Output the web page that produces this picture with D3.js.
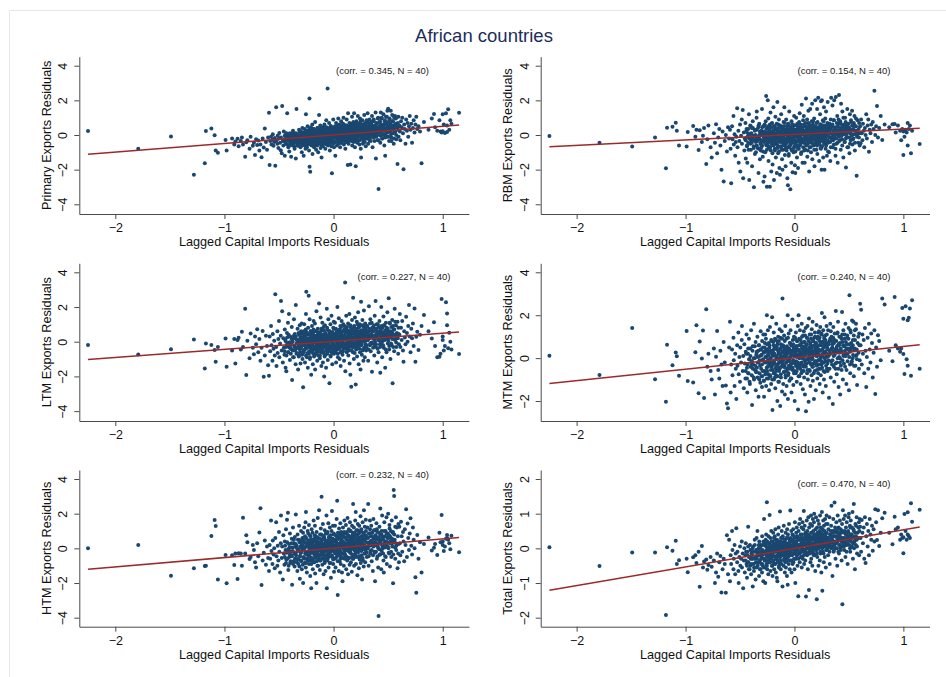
<!DOCTYPE html>
<html>
<head>
<meta charset="utf-8">
<script src="https://cdn.jsdelivr.net/npm/d3@7"></script>
<style>
  html, body { margin: 0; padding: 0; background: #fff; }
  svg { display: block; }
</style>
</head>
<body>
<svg id="chart" width="946" height="677"></svg>
<script>
// Lagged capital imports residuals (shared by every panel), one value per country-year
const capitalImports = [
  -2.25,-1.79,-1.49,-1.28,-1.18,-1.17,-1.12,-1.09,-1.08,-1.06,
  -.99,-.98,-.93,-.91,-.9,-.88,-.87,-.85,-.84,-.83,
  -.81,-.8,-.79,-.77,-.76,-.74,-.73,-.72,-.71,-.7,
  -.69,-.68,-.67,-.66,-.65,-.64,-.63,-.62,-.61,-.6,
  -.592,-.586,-.581,-.573,-.569,-.56,-.557,-.55,-.544,-.539,
  -.534,-.526,-.523,-.515,-.512,-.506,-.5,-.497,-.49,-.484,
  -.482,-.475,-.471,-.465,-.46,-.456,-.45,-.447,-.44,-.436,
  -.433,-.427,-.425,-.418,-.415,-.409,-.406,-.4,-.398,-.391,
  -.389,-.383,-.38,-.374,-.372,-.365,-.363,-.357,-.355,-.348,
  -.346,-.34,-.338,-.332,-.33,-.325,-.323,-.317,-.316,-.31,
  -.309,-.304,-.303,-.298,-.297,-.292,-.291,-.286,-.285,-.28,
  -.279,-.274,-.273,-.269,-.268,-.264,-.262,-.26,-.257,-.255,
  -.253,-.25,-.249,-.245,-.244,-.24,-.238,-.236,-.233,-.232,
  -.228,-.226,-.225,-.221,-.22,-.217,-.214,-.213,-.209,-.207,
  -.205,-.202,-.201,-.198,-.195,-.193,-.19,-.188,-.186,-.183,
  -.181,-.179,-.176,-.175,-.171,-.169,-.167,-.164,-.162,-.16,
  -.157,-.155,-.152,-.15,-.148,-.145,-.143,-.141,-.138,-.136,
  -.133,-.131,-.129,-.126,-.124,-.122,-.119,-.117,-.114,-.112,
  -.11,-.107,-.105,-.103,-.1,-.098,-.095,-.093,-.091,-.088,
  -.086,-.084,-.081,-.079,-.076,-.074,-.072,-.069,-.067,-.065,
  -.062,-.06,-.057,-.055,-.053,-.05,-.048,-.046,-.043,-.041,
  -.038,-.036,-.034,-.031,-.029,-.027,-.024,-.022,-.019,-.017,
  -.015,-.012,-.01,-.008,-.005,-.003,0,.002,.004,.006,
  .008,.011,.013,.016,.018,.021,.023,.026,.028,.031,
  .033,.035,.038,.04,.043,.045,.048,.05,.052,.055,
  .057,.06,.062,.065,.067,.069,.072,.074,.077,.079,
  .082,.084,.086,.089,.091,.094,.096,.099,.101,.103,
  .106,.108,.111,.113,.116,.118,.12,.123,.125,.128,
  .13,.133,.135,.137,.14,.142,.145,.147,.15,.152,
  .154,.157,.159,.162,.164,.167,.169,.171,.174,.176,
  .179,.181,.184,.186,.188,.191,.193,.196,.198,.201,
  .203,.205,.208,.21,.213,.215,.218,.22,.222,.225,
  .227,.23,.232,.235,.237,.239,.242,.244,.247,.249,
  .252,.254,.256,.259,.261,.264,.266,.269,.271,.273,
  .276,.278,.281,.283,.286,.288,.29,.293,.295,.298,
  .301,.305,.309,.312,.317,.321,.324,.329,.333,.337,
  .34,.345,.349,.352,.357,.36,.365,.368,.373,.377,
  .38,.385,.388,.393,.397,.4,.405,.409,.412,.417,
  .42,.425,.428,.433,.437,.44,.445,.449,.452,.457,
  .46,.465,.468,.473,.477,.48,.485,.488,.493,.497,
  .5,.505,.509,.512,.517,.521,.524,.529,.533,.537,
  .541,.545,.551,.555,.56,.565,.571,.575,.58,.586,
  .589,.592,.594,.596,.599,
  .603,.607,.612,.618,.624,.629,.636,.641,.647,.653,
  .659,.665,.672,.678,.684,.691,.698,.705,.712,.719,
  .727,.734,.742,.75,.758,.767,.778,.792,.806,.828,
  .87,.9,.92,.93,.95,.97,.98,.99,1,1,
  1.01,1.02,1.03,1.04,1.04,1.05,1.06,1.07,1.08,1.15,
  -.448,-.444,-.436,-.432,-.425,-.422,-.415,-.412,-.404,-.401,
  -.396,-.392,-.385,-.382,-.374,-.371,-.364,-.36,-.354,-.351,
  -.346,-.344,-.338,-.336,-.329,-.327,-.321,-.319,-.313,-.311,
  -.306,-.304,-.298,-.296,-.29,-.288,-.282,-.28,-.274,-.272,
  -.267,-.265,-.26,-.258,-.253,-.251,-.246,-.244,-.239,-.237,
  -.232,-.23,-.225,-.223,-.218,-.216,-.211,-.209,-.204,-.202,
  -.197,-.196,-.191,-.19,-.185,-.184,-.179,-.178,-.173,-.172,
  -.167,-.166,-.161,-.16,-.155,-.154,-.149,-.148,-.143,-.142,
  -.137,-.136,-.131,-.13,-.125,-.124,-.119,-.118,-.113,-.112,
  -.107,-.106,-.101,-.1,-.095,-.094,-.089,-.088,-.083,-.082,
  -.077,-.076,-.071,-.07,-.065,-.064,-.059,-.058,-.053,-.052,
  -.047,-.046,-.041,-.04,-.035,-.034,-.029,-.028,-.023,-.022,
  -.017,-.016,-.011,-.01,-.005,-.004,.002,.003,.008,.009,
  .014,.015,.02,.021,.026,.027,.032,.033,.038,.039,
  .044,.045,.05,.051,.056,.057,.062,.063,.068,.069,
  .074,.075,.08,.081,.086,.087,.092,.093,.098,.099,
  .104,.105,.11,.111,.116,.117,.122,.123,.128,.129,
  .134,.135,.14,.141,.146,.147,.152,.153,.158,.159,
  .164,.165,.17,.171,.176,.177,.182,.183,.188,.189,
  .194,.195,.2,.201,.206,.207,.212,.213,.218,.219,
  .224,.225,.23,.231,.236,.237,.242,.243,.248,.249,
  .254,.255,.26,.261,.266,.267,.272,.273,.278,.279,
  .284,.285,.29,.291,.296,.297,.302,.303,.308,.309,
  .314,.316,.321,.322,.328,.329,.334,.336,.341,.342,
  .348,.349,.355,.356,.362,.363,.368,.37,.375,.377,
  .382,.384,.389,.391,.396,.398,.403,.405,.41,.412,
  .417,.419,.425,.426,.432,.434,.439,.441,.447,.449,
  .454,.456,.462,.464,.47,.472,.478,.48,.486,.488,
  .494,.496,.502,.504,.51,.513,.519,.521,.527,.53,
  .536,.538,.545,.547,.554,.556,.563,.565,.572,.574
];

// Export residuals, same observation order as capitalImports
const primaryExports = [
  .23,-.79,-.08,-2.29,-1.63,.23,.38,-.02,-.9,-1.02,
  -.29,-.9,-.2,-.55,-.38,-.22,-.65,-.35,-.15,-.55,
  -1.25,-.42,-.3,-.8,-.1,-.62,-.45,-1.15,-.25,-.58,
  -.32,-.9,-.55,-1.29,-.2,-.72,.38,-.4,-.85,-.15,
  1.29,-1.73,-.35,-.1,-.55,-.28,.05,-.62,-.4,-.18,
  -1.77,1.6,-.3,-.5,-.05,-.75,-.2,.12,-.45,-.88,
  -.15,-1.05,1.67,-.35,-.6,.2,-.25,-1.2,-.4,.02,
  -.52,-.1,1.25,-.3,-.7,-.18,-.95,.1,-.42,-.25,
  -1.25,-.35,-.05,-.6,.25,-.2,-.48,-.8,.05,-.3,
  -1.35,1.5,-.15,-.4,-.62,-.02,-.28,-.5,.3,-.12,
  -.35,-.7,-.1,.15,-.45,-.22,-1,.4,-.55,-.08,
  -.2,-1.2,.1,-.45,-.3,.35,-.6,-.05,-.8,.2,
  1.2,-.15,-.4,.05,-.7,-.25,.5,-.55,-.1,.15,
  -.35,.3,-.9,2.1,-1.83,-.2,-2.12,0,-.5,.45,
  -.05,-.6,.25,-.3,.6,-1.1,-.15,.1,-.45,-.25,
  .35,-.7,-.1,.05,-.35,.75,-.5,-.2,.15,-.85,
  -.3,.2,-.05,-.6,.4,-.25,0,-1,.3,-.4,
  1.15,-.15,-.5,.1,-.3,.55,-.75,.05,-.2,.3,
  -1.3,-.05,.25,-.4,0,-.65,.45,-.25,.15,-.1,
  -.45,.6,-.2,.1,-.8,.3,-.05,-.3,.85,-.55,
  .15,-.25,.4,2.69,-.1,-.6,.2,-.35,.05,.7,
  -.15,.35,-.9,.1,-.4,.5,-.2,0,-.65,.25,
  -2.21,.4,-.3,.15,-.5,.9,-.1,.3,-.7,.05,
  .1,-.4,.5,-1.2,.25,-.15,.7,-.05,.35,-.6,
  0,.45,-.3,.2,.95,-.5,.15,-.1,.6,-.25,
  .3,-.7,.05,.5,-.2,.8,-.45,.15,-.05,.4,
  -.35,.2,.65,-.1,1,-.55,.3,.05,-.25,.45,
  .1,-.8,.55,-.15,.25,-.4,.9,0,.35,-.3,
  -1.73,1.25,.2,-.5,.4,-.05,.7,-.25,.15,.5,
  -1.7,.3,-.1,.6,-.35,.1,1.05,-.6,.45,-.2,
  .25,.75,-.4,.05,1.25,-.15,.4,-.7,.6,.1,
  -1.81,.35,-.25,.8,0,.5,-.45,.2,1.1,-.1,
  .45,-.3,.15,.65,-.55,.3,.95,-.05,.25,-.8,
  -1.3,.55,.05,.35,-.2,.85,.2,-.5,.6,.1,
  .4,-.15,1.15,.3,-.4,.7,.05,.5,-.65,.25,
  .3,-.2,.75,1.25,-.5,.45,.1,.9,-.15,.55,
  -.35,.6,.2,1.1,-.7,.35,0,.8,.5,-.1,
  .25,1.3,-1.35,.65,.1,.4,-.3,1,-3.12,.5,
  .15,.7,-.45,1.3,.35,.95,-.2,.55,.05,1.2,
  .4,-.6,.8,-1.2,.25,1.05,.6,-.1,1.4,.3,
  1.52,.45,-.35,.9,.2,.65,1.4,-.15,.5,1.15,
  .35,.8,-.5,1,.15,.6,.95,-.25,.45,-1.67,
  .7,.3,1.05,-.1,.5,
  .55,.2,-.3,.8,.45,1,.1,-1.98,.6,.35,
  -.5,.9,.25,.7,-.1,.5,1.1,.3,.65,-.45,
  .4,.85,.15,.6,1.05,.35,.5,.2,-1.63,.75,
  .3,.95,1.21,.45,.25,.85,.2,.15,.22,1.2,
  .6,.12,1.25,.55,.18,1.48,.3,.85,.65,1.29,
  -.05,-.4,-.25,.1,-.55,-.3,-.15,.05,-.6,-.2,
  -.35,0,-.1,-.5,-.2,.15,-.3,-.65,-.05,-.25,
  .1,-.3,-.45,-.15,.05,-.55,-.2,-.05,-.35,.2,
  -.25,-.05,.2,-.4,-.15,-.6,0,-.3,.15,-.1,
  -.4,.1,-.2,-.05,-.5,.25,-.3,-.1,.05,-.35,
  0,-.25,.2,-.45,-.1,.1,-.35,-.55,.3,-.15,
  -.3,.15,-.05,-.2,.35,-.45,.05,-.15,-.6,.2,
  .1,-.35,-.1,.25,-.25,-.5,0,.4,-.15,-.05,
  -.2,.3,-.45,.05,-.1,.2,-.3,0,.45,-.55,
  .15,-.15,.35,-.3,0,-.5,.25,-.1,.1,-.25,
  -.35,.05,.3,-.15,.45,-.05,-.4,.2,0,-.2,
  .25,-.25,.1,-.5,0,.35,-.1,-.3,.5,.05,
  -.15,.2,-.35,.4,.05,-.2,.3,-.45,.1,-.05,
  .3,-.1,.15,-.4,.45,0,-.25,.2,-.05,.55,
  -.2,.35,.05,-.35,.2,.5,-.1,.1,-.45,.25,
  .15,-.3,.45,0,-.15,.3,.6,-.2,.1,-.05,
  .35,-.05,.2,-.4,.1,.55,-.2,0,.4,-.1,
  -.15,.25,.5,.05,-.3,.35,.1,-.1,.65,.2,
  .4,0,-.2,.3,.15,-.35,.6,.05,.25,-.1,
  .2,-.25,.45,.1,.7,-.05,.3,-.4,.15,.5,
  -.1,.35,.05,.55,.2,-.3,.4,.1,.8,-.05,
  .3,.6,-.15,.15,.45,0,-.35,.25,.5,.1,
  .05,.4,.2,-.2,.65,.3,.1,.85,-.1,.45,
  .5,-.05,.25,.7,.1,-.3,.4,.2,.6,0,
  .3,.75,.05,.45,-.15,.2,.9,.35,-.35,.55,
  .1,.5,.25,-.1,.7,.35,0,.95,.2,-.3,
  .45,.15,.8,.3,-.05,.55,.2,1,-.2,.4,
  .25,.6,0,.4,.85,-.15,.35,.1,.7,1.05,
  .5,.15,.75,-.1,.35,.95,.25,.6,.05,-.35,
  .3,.8,.1,.55,-.2,.4,1.1,.2,.65,0
];

const rbmExports = [
  -.06,-.44,-.67,-.15,-1.92,.42,.48,.71,.25,-.6,
  -.67,.18,.52,-.1,.3,-.87,.28,-.4,-.05,.4,
  -1.67,-.25,.55,-.7,-1.3,.1,-.45,.62,-1.05,-.15,
  .35,-.6,-2,.2,-2.69,-.35,0,-.95,.45,-.2,
  .3,-.8,-2.79,.5,-.25,1.1,-.55,.05,-1.2,-.4,
  -.1,1.55,-.7,.25,-1.6,-.35,.6,-2.1,-.05,.9,
  -.5,1.45,-2.5,.15,-.9,-.2,.7,-1.35,.35,-.6,
  -1.6,.1,-.45,1.2,-2.6,-.15,.55,-.85,-.3,.4,
  -1.8,.8,-.05,-.65,-3.02,.3,-1.1,0,-.4,1,
  1.35,-.25,-.75,.45,-2.2,-.1,.65,-1.4,.2,-.5,
  -.9,.25,-.35,1.5,-.6,.1,-1.25,.5,-2.7,-.15,
  .2,-2.4,.55,-.3,-1,.8,-.15,2.25,-.6,.05,
  -2.98,.4,-.5,2,-.2,.95,-1.5,.1,-.75,.3,
  -.05,-2.98,.6,-.4,1.3,-.9,.15,-2.1,.45,-.25,
  .7,-.55,-1.7,.2,-.1,1.6,-.35,-2.6,0,.5,
  -.8,.35,-.2,1.05,-1.3,.1,-.45,.65,-2.2,-.05,
  1.9,-.6,.25,-1.05,.4,-.3,.9,-.15,-1.9,.15,
  -2.3,.55,-.25,.1,-.7,1.2,-.4,.3,-1.4,0,
  -2,.45,-.1,-.85,.75,-.35,.2,1.6,-.6,-1.15,
  .3,-.5,-1.8,.05,.9,-.25,-.9,.5,-.05,-2.5,
  -.4,-2.9,.65,-.15,-1.2,.25,1.35,-.7,.1,-.3,
  -3.13,.4,-.55,.15,-1.6,.8,-.2,-.9,.35,-2.15,
  .6,-.35,.05,-1,.3,1.1,-.65,-.1,-1.75,.2,
  -2.2,.3,-.4,1,-.1,.55,-1.3,.2,-.65,0,
  -1.9,.45,.1,-.8,.75,-.3,1.25,-.05,-.5,.35,
  .6,-1.1,.15,-.35,1.75,-.2,.4,-1.6,.05,.85,
  -.45,.25,1.1,-.9,0,-1.6,.5,-.25,.7,-.1,
  2.1,-.6,.3,-.15,.9,-1.25,.05,.45,-.4,1.4,
  -.2,.65,-2.1,.1,-.7,.35,1.5,-.3,.2,-1,
  .5,-.45,.05,1.8,-1.4,.25,-.15,.8,-.6,.15,
  -.25,.95,-1.8,.4,.1,2,-.5,.3,-.1,-.85,
  .7,-.3,1.5,-1.1,.15,-.55,2.15,.45,-.2,.05,
  -1.5,.35,-.4,1.2,0,-.75,.6,1.95,-.15,-2,
  2,-.65,.25,-.1,.85,-1.3,.4,-.35,1.6,.1,
  -2,.55,-.2,.95,-.8,.2,1.35,-.45,.05,-1.2,
  .2,1.9,-.45,.6,-1,.35,-.15,-1.5,.9,2.15,
  -.3,.5,1.7,-.7,.1,.85,2,-.2,.4,-1.2,
  2.2,-.5,.25,1.1,-1.6,0,.65,2.31,-.35,.3,
  .8,-.85,1.8,.15,-.25,1.35,.45,-1.3,.05,.6,
  -.4,1,.2,-1.87,.55,-.1,1.5,.35,-.7,.25,
  .4,-1.05,1.2,.1,-.3,.75,.05,1.4,-.55,.3,
  -.2,.6,1.1,-.9,.25,.5,-2.35,0,.85,-.45,
  .35,-.15,.7,.1,-.6,
  .5,-.48,.9,.1,-.3,.65,.25,-.7,.4,0,
  1.2,-.2,.55,.9,-.96,.3,.1,.6,-.4,.75,
  .35,2.56,0,.5,1.67,-.15,.4,1.1,-.29,.6,
  .45,.62,.63,.15,.55,.25,-.3,.35,-1.15,.2,
  -.1,.3,.15,.7,-.6,.35,.55,-1.06,.25,-.52,
  -.3,.2,-.65,-.1,.35,-.85,-.2,.05,-.5,.5,
  .1,-.45,-.15,.4,-.75,-.3,.25,-.05,-1,-.2,
  -.6,.3,-.1,-.35,.55,-.8,0,-.25,.15,-.5,
  .2,-.7,-.3,.45,-.05,-.95,.1,-.4,.6,-.15,
  -.25,.05,-.55,.35,-.85,.15,-.1,-.4,.5,-.65,
  .4,-.35,-.05,-.7,.2,-.2,.65,-.5,0,-1.05,
  -.15,.25,-.6,.1,-.3,.5,-.9,-.05,.3,-.45,
  0,-.5,.35,-.2,-.75,.15,-.35,.6,-.1,-.95,
  -.4,.2,-.1,.45,-.65,-.25,.05,-.85,.3,-.15,
  .25,-.3,.5,-.55,0,-.2,.7,-.45,.1,-.8,
  -.5,.1,-.25,.35,-.7,.15,-.05,.55,-.35,-1.1,
  .3,-.15,-.6,.05,.45,-.4,.2,-.85,0,.6,
  -.2,.4,-.45,.15,-.75,0,.55,-.3,.25,-.95,
  .05,-.55,.3,-.1,.65,-.35,-.8,.2,-.2,.45,
  -.35,.25,0,-.6,.5,-.15,.35,-1,.1,-.4,
  .4,-.25,.15,-.7,.05,.6,-.45,.25,-.1,-.85,
  -.05,.5,-.3,.2,-.55,.35,0,-.9,.7,-.2,
  .3,-.45,.1,.55,-.15,-.7,.4,0,-.35,.8,
  -.25,.15,.6,-.5,.3,-.1,-.85,.45,.05,-.3,
  .5,-.2,0,.35,-.6,.2,.75,-.4,.1,-.05,
  -.1,.4,-.55,.15,.6,-.3,.25,-.8,.45,0,
  .3,-.35,.55,.05,-.15,.8,-.5,.2,-.05,.4,
  -.2,.5,.1,-.6,.35,0,.7,-.3,.2,-.95,
  .45,-.1,.25,.65,-.4,.1,-.7,.35,.55,-.15,
  .05,.6,-.3,.2,-.55,.85,.3,-.05,.45,-.8,
  .35,-.2,.7,.1,-.45,.5,0,.9,-.1,.25,
  -.3,.4,.15,.65,-.05,.3,-.6,.55,.2,1,
  .5,.05,-.4,.3,.75,-.2,.45,.1,-.7,.6,
  .2,.65,-.15,.4,-.5,.1,.85,.3,-.05,.55,
  -.25,.35,.7,.05,.5,-.45,.25,.95,.15,-.1
];

const ltmExports = [
  -.19,-.73,-.44,.13,-1.54,-.1,-.19,-.48,-1.15,-.3,
  .19,-1.44,-.5,.15,-1.25,.1,.23,-.45,.58,-.3,
  1.9,-1.92,.05,-.95,.48,-.35,-.72,.3,-.15,.72,
  -.6,.15,-1.1,-.35,.62,-2.02,-.8,.35,-.25,-1.35,
  -1.96,.3,-.55,.9,-.2,-1.1,.45,-.4,.05,-.8,
  2.73,-.3,-1.4,.6,-.65,.15,1.2,-.9,-.1,.35,
  2.35,-.5,1.75,-1.2,.2,-.35,-.75,.7,-1.5,0,
  -1.7,.5,-.25,1.1,-.6,1.6,-.05,-1.05,.3,-.4,
  -.15,.85,-2.21,-.5,.2,-.9,1.3,-.3,.45,-1.3,
  2.12,-.7,.1,-.35,.75,-1.6,-.1,.4,-.8,.95,
  -.45,.25,-1.25,.6,-.2,1.05,-.65,.1,-1,.5,
  -2.63,.3,-.6,1,-.15,.5,-1.2,.1,-.4,.7,
  1.6,2.88,-.35,.2,-.9,.45,-.05,-1.5,.8,-.25,
  2.65,-.7,.15,-.3,1.3,-1,.4,-.1,.6,-.55,
  -1.9,.25,-.45,.9,-.15,.05,-1.3,.55,-.7,1.2,
  .35,-.85,0,-.3,1.05,-1.6,.2,.6,-.4,-.1,
  1.75,-.5,.3,-1.1,.1,.75,-.25,-.8,.45,0,
  2.21,-.35,.55,-.95,.15,-.2,1.4,-.6,.3,-1.4,
  .05,.65,-.45,1.1,-.15,-1.2,.4,-.05,.85,-.7,
  -2,.2,-.3,.95,-.75,.5,.05,-1.5,.35,-.2,
  1.9,-.4,.7,-.1,-1.05,.25,1.3,-.55,.1,.45,
  -2.4,.6,-.25,.15,1,-.85,.35,-.3,1.5,-.6,
  0,-1.3,.55,.2,-.45,.8,-.15,1.15,-.7,.3,
  .4,-.6,1.1,.1,-.3,.75,-1.2,.25,.5,-.05,
  -.45,2,.2,-.9,.65,0,1.35,-.35,.3,-1,
  .55,-.2,.9,-1.4,.15,.45,-.55,1.2,-.1,.35,
  -.75,.6,.05,1,-.4,.3,-1.1,.7,.2,-.25,
  3.42,-1.7,.5,-.15,1.5,.1,-.6,.85,-.3,.25,
  0,1.05,-.8,.4,-.35,.6,1.6,-1.25,.15,-.1,
  -1.9,.35,.8,-2.6,.05,-.5,1.25,.5,-.2,.7,
  2.54,-.3,.25,-1,.9,.1,-.65,1.4,.4,-.15,
  -2.46,.55,-.4,.2,1.15,-.85,.6,0,-.25,1.7,
  .3,-1.3,.85,-.1,.45,1,-.6,.15,-1.6,.5,
  2.3,-.2,.65,-.75,.1,1.25,.35,-.45,.95,-1.1,
  .2,1.8,-.35,.6,-.9,.4,1.05,-.15,.75,-.5,
  .5,-.4,.9,.1,-1.1,.35,2.05,.7,-.2,1.3,
  -.55,.25,1.1,-1.73,.6,-.1,.85,.3,-.8,1.5,
  0,2.35,-.3,.75,.45,-1.2,1,.2,-.6,.55,
  1.2,-.15,-1.79,.65,2,.3,-.9,.8,.05,1.45,
  -.35,.95,.4,-1.5,.15,1.1,-.6,.5,1.7,-.1,
  .6,2.5,-.45,.25,1.05,-1,.4,.85,-.2,1.25,
  -2.4,.35,.7,-.55,1.9,.15,.95,-.3,.5,1.15,
  .2,-.7,.8,.45,-.15,
  .4,1.6,-.3,.8,.1,1.2,-.5,-1.15,.6,.25,
  -.15,1.44,.5,0,.9,2.12,.3,-.6,.75,.2,
  1.05,-.25,1.92,-1.15,.29,.58,-.48,.4,.9,1.54,
  .6,.18,1.12,-.25,-.9,-.87,-.7,2.46,.1,.3,
  -.5,-.25,2.27,1.63,.95,-.38,.52,0,-.45,-.71,
  -.55,.1,-.3,-.8,.25,-.15,-.6,.4,-.35,-.05,
  -.2,-.7,.15,-.45,0,-.9,.35,-.25,-.5,.2,
  .3,-.4,-.1,-.65,.1,-.3,.5,-.85,-.2,.05,
  -.6,.15,-.35,.45,-.05,-.75,.25,-.2,-.5,.6,
  0,-.45,.35,-.25,-.8,.1,.55,-.35,-.1,-.65,
  -.3,.4,-.55,.05,.2,-.9,-.15,.6,-.4,.15,
  .25,-.2,-.6,.45,-.05,.7,-.45,.1,-.3,-.75,
  -.45,.05,.35,-.25,.6,-.65,.2,-.1,.45,-.35,
  .1,-.55,.3,-.15,-.8,.5,0,-.4,.75,-.2,
  -.35,.4,-.1,.25,-.6,.05,.65,-.3,.15,-.85,
  .45,-.25,.1,-.5,.3,-.05,.8,-.7,.2,-.15,
  -.1,.35,-.45,.6,0,-.3,.15,-.8,.5,.25,
  .2,-.4,.55,-.15,.3,-.65,.05,.75,-.25,.4,
  -.3,.15,.45,-.5,0,.65,-.2,.3,-.7,.1,
  .5,-.05,-.4,.25,.7,-.25,.1,-.6,.4,.85,
  .05,.45,-.3,.2,-.55,.6,.35,-.1,.9,-.2,
  .3,-.35,.15,.55,-.1,.8,-.45,.25,0,.65,
  -.15,.4,.1,-.5,.6,.2,-.25,.95,.35,-.05,
  .45,0,-.3,.7,.15,-.6,.5,.25,-.1,.85,
  .2,.6,-.2,.35,-.45,.1,.75,.4,-.05,1,
  -.25,.5,.15,.8,.3,-.4,.05,.6,.95,-.1,
  .35,-.15,.65,.1,.45,-.5,.25,.85,0,.55,
  .7,.2,-.3,.5,.05,.9,.35,-.2,.6,.15,
  .1,.55,.3,-.45,.75,.2,1.05,-.1,.4,.65,
  .45,-.05,.8,.25,-.35,.6,.15,.95,.35,-.2,
  .2,.7,-.15,.5,1,.3,-.4,.55,.1,.85,
  .6,.05,.4,-.3,.75,.25,.9,-.05,.5,.15,
  -.2,.5,.95,.3,.1,.65,-.45,.4,.8,.2,
  .35,.75,.05,.55,-.25,1.1,.3,.6,-.1,.45,
  .55,.15,.9,-.3,.4,.7,.1,1.15,.35,-.05
];

const mtmExports = [
  .11,-.79,1.4,-.98,-2.03,.62,-.33,.26,.09,-.82,
  1.27,-1.07,-1.13,.28,1.53,-1.64,.78,-.02,1.29,-1.86,
  2.28,-.4,.2,-.6,-1,.45,-1.69,.06,1.26,-.55,
  -.95,.35,-.3,-1.3,.75,-.2,-1.28,-2.11,-2.34,.5,
  1.7,-1.6,-.3,.4,-.8,.95,-.1,-1.3,.2,-.5,
  -1.9,.6,-.35,1.2,-.75,.05,-1.1,.5,-.2,.85,
  1.5,-.6,.1,-1.4,.65,-.25,-.95,.3,1.1,-.45,
  -1.6,.2,-.7,.9,-.05,-1.2,.45,-.4,1.3,-.15,
  -2.19,.55,-.3,-.9,1.6,0,-.55,.75,-1.5,.25,
  -.65,1,-.2,.35,-1.8,.6,-1,.1,-.35,1.25,
  .4,-.85,.15,-1.35,.8,-.1,-.6,1.1,.3,-1.05,
  -1.8,.5,-.2,1.1,-.75,.3,.9,-1.3,.05,-.45,
  2,-.6,.4,-.1,1.3,-.95,.15,.7,-1.5,-.3,
  .6,-.2,1.45,-.85,0,.35,-1.2,.85,-.4,.2,
  1.9,-2.42,.3,-.55,.75,-.15,1.2,-1,.45,-.7,
  -.25,.9,-1.4,.1,.55,-.8,1.6,-.05,-.5,.4,
  -2,.65,-.3,1,-1.1,.2,.8,-.6,0,1.35,
  -.45,-2.23,.95,.15,-.9,.5,-.2,1.25,-1.55,.3,
  2.78,-.1,.6,-1.2,.25,-.65,1.05,.4,-.35,-1.7,
  .1,1.5,-.8,.35,-.2,.9,-1.3,.55,0,-.5,
  2,-1.9,.25,-.7,1.15,.45,-.15,-1.05,.7,.05,
  -.4,1.3,-.95,.2,.6,-1.6,.35,-.25,1.8,-.55,
  .85,-.1,-1.25,.5,1,-.6,.15,-2,.4,.95,
  .3,-.7,1.2,-.15,.55,-1.1,.8,.05,-.45,1.5,
  -2.39,.4,2,-.3,.9,-.85,.15,1.3,-.5,.6,
  -1.2,.25,.7,-.2,1.6,-.6,.45,0,-1.45,1.05,
  .35,-.4,1.25,-.9,.1,.75,-1.7,.5,-.1,1.4,
  -2.47,.6,-.25,.95,-.7,.2,1.5,-1,.4,-.05,
  -2.03,1.85,.3,-.55,1.1,-.2,.65,-1.3,.15,.9,
  .5,-.8,1.35,.05,-.4,1.7,-1.05,.3,.8,-.25,
  -1.9,.95,.2,-.6,1.2,.45,-.15,-1.5,.7,.1,
  1.55,-.35,.55,-.95,.25,1,-.7,.4,-.1,1.25,
  -.5,.8,-1.2,.35,1.45,0,-.8,.6,1.1,-.3,
  2.1,-.45,.75,-1.6,.2,1.3,-.2,.5,-1,.9,
  1.9,-.65,.3,1.05,-.15,-1.3,.7,.2,1.5,-.5,
  .5,-.6,1.3,-.1,-1.85,.8,.2,1.6,-.9,.4,
  1,-.3,.65,-2.14,1.45,.1,-1.1,.85,.3,-.5,
  2.2,.45,-.75,1.15,0,1.7,-1.35,.6,.25,-.2,
  -1.7,1,.35,-.55,2.15,.75,-1,1.3,.1,.55,
  .9,-.4,1.6,.2,-1.2,.65,1.05,-.15,.45,1.4,
  -1.5,2.93,.3,-.7,1.2,.5,-.25,1.75,0,.85,
  1.7,-.85,.4,1.3,-.35,1.6,.15,-1.25,.7,1,
  .25,-.5,1.15,.6,-.1,
  2.54,.6,2.26,-.3,1.1,.2,.85,-.7,1.4,.35,
  -1.35,.05,.95,-.5,1.6,.4,-.2,1.15,.7,-.9,
  .25,1.3,-1.67,.5,-.4,1.07,.8,-.1,2.78,2.5,
  .35,-.15,2.85,.6,.45,.3,.45,2.34,1.84,.19,
  -.74,2.42,-.05,1.77,-.36,1.88,2.31,-.82,2.7,-.5,
  -.6,.2,-.95,-.3,.45,-.7,-.05,-1.1,.1,-.4,
  -.25,-.8,.35,-.5,0,-1,.55,-.35,-.65,.15,
  .3,-.45,-.9,.05,-.2,.6,-.7,-.1,-1.15,.4,
  -.5,.15,-.3,-.85,.5,-.05,-1.05,.25,-.6,.7,
  .05,-.65,.4,-.2,-.95,.65,-.4,.15,-.75,.3,
  -.35,.5,-.8,0,.3,-.55,.8,-.25,-1,.1,
  .35,-.3,-.7,.6,-.1,.2,-.9,.45,-.45,.85,
  -.6,.1,.5,-.35,.75,-.85,0,.3,-.2,-1.1,
  .2,-.5,.4,-.15,-.75,.65,.05,-.4,.9,-.25,
  -.3,.55,-.05,.3,-.65,.1,.8,-.45,.2,-.9,
  .5,-.2,.15,-.6,.35,-.1,.95,-.8,.25,-.35,
  -.05,.4,-.5,.7,.05,-.3,.25,-.95,.6,.15,
  .3,-.45,.65,-.15,.4,-.7,.1,.9,-.25,.5,
  -.35,.2,.55,-.6,.05,.8,-.2,.35,-.85,.15,
  .6,0,-.45,.3,.85,-.3,.15,-.7,.45,1,
  .1,.55,-.35,.25,-.6,.75,.4,-.1,1.05,-.25,
  .35,-.4,.2,.65,-.05,.95,-.55,.3,0,.8,
  -.2,.5,.1,-.6,.7,.25,-.3,1.1,.4,-.05,
  .55,0,-.4,.8,.15,-.7,.6,.3,-.15,1,
  .25,.7,-.25,.4,-.55,.1,.9,.45,-.1,1.2,
  -.3,.6,.15,.95,.35,-.5,.05,.7,1.15,-.15,
  .4,-.2,.75,.1,.55,-.6,.3,1,0,.65,
  .85,.2,-.35,.6,.05,1.1,.4,-.25,.7,.15,
  .1,.65,.35,-.5,.9,.2,1.25,-.15,.45,.8,
  .5,-.1,.95,.3,-.4,.7,.15,1.15,.4,-.25,
  .25,.8,-.2,.55,1.2,.35,-.5,.65,.05,1,
  .7,0,.45,-.35,.9,.3,1.1,-.1,.6,.15,
  -.25,.55,1.1,.35,.1,.75,-.55,.45,.95,.2,
  .4,.9,.05,.65,-.3,1.3,.35,.7,-.15,.5,
  .6,.15,1.05,-.35,.45,.85,.1,1.35,.4,-.05
];

const htmExports = [
  0,.19,-1.58,-1.15,-1.02,-1,.71,1.63,1.29,-1.79,
  -.38,-2.02,-.4,-.96,-.3,-1.77,-.28,-.3,-1,1.77,
  -.29,.75,.35,-.62,-.5,.2,-.1,-.8,-1.1,.3,
  -.45,.92,2.31,-2.12,-.7,-.25,.45,-.95,.1,-.55,
  -1.3,.2,-.6,1.6,-.15,-.9,.45,-.35,0,-1.15,
  .6,1.5,-.45,-1,.15,-.7,.95,-.2,-1.4,.3,
  1.9,-.55,.1,-1.8,.75,-.3,-.95,.4,-.1,1.1,
  -.65,1.65,-.2,2.05,-1.25,.25,-.5,.85,-.85,.05,
  -.4,.55,-2.1,-.15,1.2,-.75,.3,-1.05,.65,-.3,
  1.95,-.6,.15,-1.3,.8,-.05,-.9,.5,1.3,-.45,
  -1.75,.35,-.25,1,-.7,.2,-1.2,.6,-.1,.9,
  -2,.4,-.5,1.2,.05,-.85,.7,-.3,1.5,-1.1,
  2.1,-.25,.6,-1.4,.2,-.6,1,.1,-.4,.85,
  -.15,1.35,-.9,.35,-.35,.75,-1.6,0,.5,-.7,
  -2.3,.3,1.1,-.55,-.1,.9,-1.2,.45,-.25,1.6,
  .15,-.8,.55,-.2,1.3,-1.45,.05,.7,-.5,.25,
  -2,.95,-.3,.4,-1,1.75,-.15,.6,-.65,.1,
  2.2,-.4,.25,-1.25,.8,0,-.7,1.15,.35,-.1,
  2.98,-.55,.5,-.95,.15,1.4,-.3,.7,-1.5,.2,
  -.2,.6,1.05,-.75,.3,-1.3,.85,.05,-.4,1.9,
  -2.3,.45,-.1,.95,-.6,.25,1.45,-1.1,.65,-.25,
  .4,-.85,1.2,.1,-.45,.75,-1.7,.3,1,-.15,
  2.15,-.5,.55,-.05,1.3,-.9,.2,.85,-1.35,.45,
  .5,-.6,1.3,.1,-1.1,.75,-.2,.35,1.7,-.45,
  2.75,.2,-2.69,.9,-.35,.55,-1.3,1.15,0,-.75,
  .65,-.15,1.45,-.9,.3,.95,-.5,.1,-1.4,.8,
  -1.9,.4,1.2,-.3,.7,-1,.15,1.6,-.6,.25,
  .85,-.4,.05,1.35,-1.2,.5,-.1,.95,-.7,1.75,
  .3,-1.5,.75,0,1.1,-.55,.45,-.95,1.5,.2,
  -.25,1,-.8,.6,.1,-1.35,1.3,.4,-.45,.9,
  2.56,-.6,.35,1.2,-1,.7,.05,-.35,1.6,.25,
  2.1,-.9,.5,1.05,-.2,.8,-1.55,.3,1.4,-.5,
  .65,0,-1.15,1.3,.4,-.65,.95,-.1,1.85,-.85,
  .2,1.1,-.4,.7,-1.8,.55,1.5,-.7,.05,.9,
  -1.05,2.2,.45,-.3,1.25,.1,-.8,.75,1.65,-.2,
  .6,-.5,1.2,0,2.56,-1,.85,.35,1.6,-.3,
  .4,1.3,-.75,.9,.15,-1.3,1.7,.55,-.2,1.05,
  -1.9,.7,.2,1.45,-.6,.95,.1,-1.1,-3.9,.5,
  1.25,-.35,2.3,.45,-1.2,.8,1.9,0,.65,-.7,
  -1.4,1.5,.3,-.45,1,.2,1.8,-.9,.6,.1,
  2,-.25,.75,1.35,-1.05,.4,1,-.5,1.6,.3,
  .9,-2.02,3.37,3.02,.5,-.6,1.8,.15,1.2,-1.15,
  .7,-.3,1.4,.25,-.8,
  1.25,.3,-.4,1.54,.7,-.2,.95,.4,-.75,1.1,
  .2,2.25,-.5,1.44,.6,-.1,.85,1.73,.15,-.35,
  1.2,.5,0,-1.67,-2.56,.77,-.6,.35,-1.4,.25,
  .62,-.12,.03,.25,-.38,.9,.35,1.92,.2,.4,
  -.15,.1,.55,.77,.6,.5,.3,-.05,.72,-.23,
  -.5,.15,-.85,-.25,.35,-.6,-.05,-1,.05,-.35,
  -.2,-.75,.3,-.45,.05,-.9,.5,-.3,-.6,.1,
  .25,-.4,-.8,0,-.15,.5,-.65,-.1,-1.05,.35,
  -.45,.1,-.25,-.75,.45,0,-.95,.2,-.55,.6,
  0,-.6,.35,-.2,-.85,.55,-.35,.1,-.7,.25,
  -.3,.45,-.7,.05,.25,-.5,.7,-.2,-.9,.1,
  .3,-.25,-.65,.5,-.1,.15,-.8,.4,-.4,.75,
  -.55,.05,.45,-.3,.65,-.75,0,.25,-.15,-1,
  .2,-.45,.35,-.1,-.7,.55,.05,-.35,.8,-.2,
  -.25,.5,-.05,.25,-.6,.1,.7,-.4,.15,-.85,
  .45,-.15,.1,-.55,.3,-.05,.85,-.7,.2,-.3,
  -.05,.35,-.45,.6,0,-.25,.2,-.85,.5,.1,
  .25,-.4,.55,-.1,.35,-.65,.05,.8,-.2,.45,
  -.3,.15,.5,-.55,0,.7,-.15,.3,-.75,.1,
  .55,0,-.4,.25,.75,-.25,.1,-.6,.4,.9,
  .05,.5,-.3,.2,-.55,.65,.35,-.05,.95,-.2,
  .3,-.35,.15,.6,-.05,.85,-.5,.25,0,.7,
  -.15,.45,.05,-.55,.65,.2,-.25,1,.35,-.05,
  .5,0,-.35,.75,.1,-.6,.55,.25,-.1,.9,
  .2,.65,-.2,.35,-.5,.05,.8,.4,-.1,1.05,
  -.25,.55,.1,.85,.3,-.45,0,.6,1,-.1,
  .35,-.15,.7,.05,.5,-.55,.25,.9,-.05,.6,
  .75,.15,-.3,.55,0,1,.35,-.25,.65,.1,
  .05,.6,.3,-.45,.85,.15,1.1,-.15,.4,.7,
  .45,-.1,.9,.25,-.4,.65,.1,1.05,.35,-.25,
  .2,.75,-.2,.5,1.1,.3,-.45,.6,0,.9,
  .65,-.05,.4,-.35,.8,.25,1,-.15,.55,.1,
  -.3,.5,1,.3,.05,.7,-.5,.4,.85,.15,
  .35,.85,0,.6,-.3,1.15,.3,.65,-.2,.45,
  .55,.1,.95,-.35,.4,.8,.05,1.25,.3,-.1
];

const totalExports = [
  .03,-.51,-.12,-.12,-1.92,.03,-.07,.22,-.45,-.34,
  -.3,-.69,-.26,-.2,-.42,-.1,-1.11,.07,-.55,-.38,
  -.32,-.62,-.48,-.25,-.53,-.35,-1,-.7,-.15,-.82,
  -.4,-.22,-1.27,-.6,-.3,-.45,-1.28,.38,-.75,.25,
  -.95,-.2,-.45,.5,-.05,-.6,-.3,.1,-.75,-.15,
  .58,-.4,-.1,-.65,-1,-.25,.05,-.5,-.3,.2,
  -.55,-.15,-1.15,-.35,0,-.7,-.2,.15,-.45,-.85,
  -.1,-.4,.62,-.6,-.25,.1,-.5,-.05,-.75,-.3,
  -.2,-1.1,.05,-.45,-.65,.25,-.3,-.9,-.1,.3,
  -.55,.5,-.2,-.4,0,-.8,.2,-.35,-.6,-.15,
  .1,-.45,-.25,-.7,.35,-.05,-.5,-.95,.2,-.3,
  .85,-.3,.1,-.55,-1,.25,-.15,.4,-.45,-.05,
  1.33,-.6,.2,-.25,0,-.75,.35,-.35,-.1,.15,
  .96,-.4,-.2,.3,-.65,.05,-.3,.5,-.15,-.5,
  -.25,.2,-.8,.1,.45,-.4,-.05,.3,-.6,0,
  .35,-.45,-.1,.55,-.7,.15,-.3,.05,-.85,.25,
  -.95,.1,-.35,.4,-.2,.6,-.55,0,.2,-.4,
  1.06,-.25,.15,-.6,.3,-.05,-.45,.5,-.15,.05,
  -1.1,.35,-.2,.1,-.5,.65,-.35,.2,-.1,-.7,
  .25,-.3,.45,-.55,.05,.3,-.15,-.8,.55,0,
  -1.05,.4,-.25,.15,-.45,.7,-.1,.25,-.6,.1,
  1.09,-.35,.3,-.05,.5,-.7,.2,-.2,.4,-.45,
  0,.55,-.4,.2,-.15,.35,-.6,.1,.75,-.3,
  -1,.2,-.3,.45,0,.6,-.2,.35,-.5,.1,
  .3,-1.38,.5,-.15,.7,.05,-.4,.25,.85,-.1,
  .4,-.25,.15,.6,-.55,.3,0,.75,-.3,.2,
  .55,-.05,1.08,-.45,.25,.65,.1,-.35,.45,-.15,
  -1.39,.35,0,.8,-.2,.5,.15,-.6,.4,.9,
  .2,-1.2,.6,-.1,.35,.05,.7,-.4,.25,.95,
  -.3,.45,.1,.65,-.5,.3,.85,-.15,.5,0,
  .75,1,-.2,.4,.15,-.65,.55,.25,.9,-.05,
  .3,-1.47,.6,-.25,.45,.8,.1,-.5,.35,.7,
  .05,.5,-.35,.95,.2,-.15,.6,.3,-.7,.4,
  1.05,.25,-1.22,.55,-.1,.8,.35,-.4,.65,.15,
  .5,-.25,.85,.1,.4,-.55,.7,.2,.95,-.05,
  .3,.7,-.2,.55,.1,.9,-.45,.4,.05,.65,
  1.23,.2,-.8,.5,.85,-.1,.35,1.32,.6,-.3,
  .15,.75,.45,-.5,.95,.25,.6,-.15,.4,.8,
  0,.55,.3,-.35,.7,-1.61,1.1,.2,.85,-.05,
  .45,.95,-.25,.6,.1,.75,.35,-.45,.5,.9,
  1,.25,.65,-.1,.8,.4,.05,.6,1.05,-.3,
  .55,1.28,.2,-.6,.7,.35,.9,-.15,.45,.6,
  .3,.75,-.2,.5,.85,
  .62,.3,-.1,.82,.45,.15,.6,-.3,.9,-.42,
  .35,.7,.05,.5,-.2,.85,.4,.25,.65,-.07,
  .55,.2,1.13,.75,.24,1.1,.07,.45,.87,1.03,
  .45,.12,.91,.55,.6,.25,.4,.3,-.14,.32,
  .99,.5,.25,1.04,.4,.35,.3,1.3,.77,1.11,
  -.35,-.1,-.5,-.2,.05,-.4,-.25,-.6,-.05,-.3,
  -.15,-.45,0,-.3,-.1,-.55,.1,-.25,-.4,-.05,
  -.05,-.3,-.5,-.15,-.2,.1,-.4,-.1,-.6,.05,
  -.3,-.05,-.2,-.45,.1,-.1,-.55,-.15,-.35,.15,
  -.1,-.35,.05,-.2,-.5,.15,-.25,-.05,-.4,0,
  -.2,.1,-.4,-.05,0,-.3,.2,-.15,-.5,-.1,
  .05,-.2,-.35,.15,-.1,0,-.45,.1,-.25,.25,
  -.3,-.05,.1,-.2,.2,-.4,-.1,.05,-.15,-.5,
  0,-.25,.1,-.1,-.35,.2,-.05,-.2,.3,-.15,
  -.15,.15,-.05,.05,-.3,0,.25,-.2,.1,-.4,
  .15,-.1,0,-.25,.1,-.05,.3,-.35,.05,-.15,
  -.05,.1,-.2,.2,0,-.15,.05,-.35,.25,.05,
  .1,-.15,.2,-.05,.15,-.3,0,.3,-.1,.15,
  -.1,.05,.2,-.2,0,.3,-.05,.1,-.3,.05,
  .25,.05,-.15,.1,.3,-.1,0,-.25,.15,.4,
  .05,.2,-.1,.1,-.2,.3,.15,-.05,.4,-.05,
  .15,-.1,.05,.25,0,.35,-.15,.1,.05,.3,
  0,.2,.05,-.15,.3,.1,-.05,.45,.15,.05,
  .25,.05,-.1,.35,.1,-.2,.25,.15,0,.4,
  .1,.3,-.05,.2,-.15,.05,.35,.2,0,.45,
  0,.25,.1,.4,.15,-.1,.05,.3,.45,.05,
  .2,0,.3,.1,.25,-.15,.15,.4,.05,.3,
  .35,.1,-.05,.25,.05,.45,.2,0,.3,.1,
  .1,.3,.2,-.1,.4,.15,.5,0,.25,.35,
  .25,.05,.45,.15,-.05,.35,.1,.5,.2,0,
  .15,.35,0,.3,.55,.2,-.1,.3,.1,.45,
  .35,.1,.25,-.05,.45,.2,.5,.05,.3,.15,
  .05,.3,.5,.2,.1,.4,-.1,.25,.45,.15,
  .25,.45,.1,.35,0,.6,.2,.4,.05,.3,
  .35,.15,.5,0,.3,.45,.1,.65,.25,.05
];

// Panel titles, correlations and fitted lines (slope, intercept)
const panelTitles = ["Primary Exports Residuals", "RBM Exports Residuals", "LTM Exports Residuals",
                     "MTM Exports Residuals", "HTM Exports Residuals", "Total Exports Residuals"];
const correlations = [0.345, 0.154, 0.227, 0.240, 0.232, 0.470];
const countries = 40;
const fitSlopes = [0.497, 0.312, 0.465, 0.529, 0.541, 0.538];
const fitIntercepts = [0.008, 0.031, 0.025, 0.011, 0.008, 0.0];

// Axis ticks
const xTicks = [-2, -1, 0, 1];
const yTicksWide = [-4, -2, 0, 2, 4];
const yTicksMtm = [-2, 0, 2, 4];
const yTicksTotal = [-2, -1, 0, 1, 2];
const xTitle = "Lagged Capital Imports Residuals";
const chartTitle = "African countries";

// ---------- layout ----------
const W = 946, H = 677;
const FONT = "'Liberation Sans', Arial, Helvetica, sans-serif";
const NAVY = "#1a476f", FIT = "#9b2a2a", AXIS = "#4a4a4a";

const columns = [{ x0: 79.3, x1: 468.9 }, { x0: 540.7, x1: 929.5 }];
const rows = [{ y0: 214, y1: 56.7 }, { y0: 421, y1: 263.3 }, { y0: 626.7, y1: 470 }];
const xDomain = [-2.33, 1.24];

const series = [primaryExports, rbmExports, ltmExports, mtmExports, htmExports, totalExports];
const panelLayout = [
  { col: 0, row: 0, yDomain: [-4.56, 4.52], ticks: yTicksWide,  label: [336, 74] },
  { col: 1, row: 0, yDomain: [-4.56, 4.52], ticks: yTicksWide,  label: [797.5, 74] },
  { col: 0, row: 1, yDomain: [-4.57, 4.52], ticks: yTicksWide,  label: [357.5, 280] },
  { col: 1, row: 1, yDomain: [-2.93, 4.42], ticks: yTicksMtm,   label: [797.5, 280] },
  { col: 0, row: 2, yDomain: [-4.52, 4.52], ticks: yTicksWide,  label: [336, 478.3] },
  { col: 1, row: 2, yDomain: [-2.26, 2.26], ticks: yTicksTotal, label: [797.5, 486.7] }
];

const svg = d3.select("#chart").attr("font-family", FONT);
svg.append("rect").attr("width", W).attr("height", H).attr("fill", "#fff");

// faint outer frame of the graph region
svg.append("path")
  .attr("d", `M9.5,${H}V10.5H${W}`)
  .attr("fill", "none").attr("stroke", "#e2eae8").attr("stroke-width", 1);

svg.append("text")
  .attr("x", 484).attr("y", 41.5)
  .attr("text-anchor", "middle")
  .attr("font-size", "18.5px").attr("fill", "#1c2d5a")
  .text(chartTitle);

const fmt = d3.format("d");
const xExtent = d3.extent(capitalImports);

panelLayout.forEach((p, i) => {
  const c = columns[p.col], r = rows[p.row];
  const x = d3.scaleLinear().domain(xDomain).range([c.x0, c.x1]);
  const y = d3.scaleLinear().domain(p.yDomain).range([r.y0, r.y1]);
  const g = svg.append("g");

  // points
  const pts = d3.zip(capitalImports, series[i]).filter(d => d[1] !== undefined);
  g.append("g").selectAll("circle").data(pts).join("circle")
    .attr("cx", d => x(d[0])).attr("cy", d => y(d[1]))
    .attr("r", 2).attr("fill", NAVY);

  // fitted line
  const line = d3.line().x(d => x(d)).y(d => y(fitIntercepts[i] + fitSlopes[i] * d));
  g.append("path").datum(xExtent)
    .attr("d", line).attr("fill", "none")
    .attr("stroke", FIT).attr("stroke-width", 1.5);

  // x axis
  const gx = g.append("g").attr("transform", `translate(0,${r.y0})`)
    .call(d3.axisBottom(x).tickValues(xTicks).tickFormat(fmt)
      .tickSize(5).tickSizeOuter(0).tickPadding(4));
  gx.select(".domain").attr("stroke", AXIS);
  gx.selectAll(".tick line").attr("stroke", AXIS);
  gx.selectAll(".tick text").attr("font-size", "12.5px").attr("fill", "#111")
    .attr("font-family", FONT);

  g.append("text")
    .attr("x", (c.x0 + c.x1) / 2).attr("y", r.y0 + 32)
    .attr("text-anchor", "middle").attr("font-size", "12.7px").attr("fill", "#111")
    .text(xTitle);

  // y axis with vertical tick labels
  const gy = g.append("g").attr("transform", `translate(${c.x0},0)`)
    .call(d3.axisLeft(y).tickValues(p.ticks).tickFormat(fmt)
      .tickSize(5).tickSizeOuter(0));
  gy.select(".domain").attr("stroke", AXIS);
  gy.selectAll(".tick line").attr("stroke", AXIS);
  gy.selectAll(".tick text")
    .attr("transform", "rotate(-90)")
    .attr("x", 0).attr("y", -12).attr("dy", null)
    .attr("text-anchor", "middle")
    .attr("font-size", "12.5px").attr("fill", "#111").attr("font-family", FONT);

  g.append("text")
    .attr("transform", `translate(${c.x0 - 28.5},${(r.y0 + r.y1) / 2}) rotate(-90)`)
    .attr("text-anchor", "middle").attr("font-size", "12.7px").attr("fill", "#111")
    .text(panelTitles[i]);

  // correlation note
  g.append("text")
    .attr("x", p.label[0]).attr("y", p.label[1])
    .attr("font-size", "9.5px").attr("fill", "#222")
    .text(`(corr. = ${correlations[i].toFixed(3)}, N = ${countries})`);
});
</script>
</body>
</html>
